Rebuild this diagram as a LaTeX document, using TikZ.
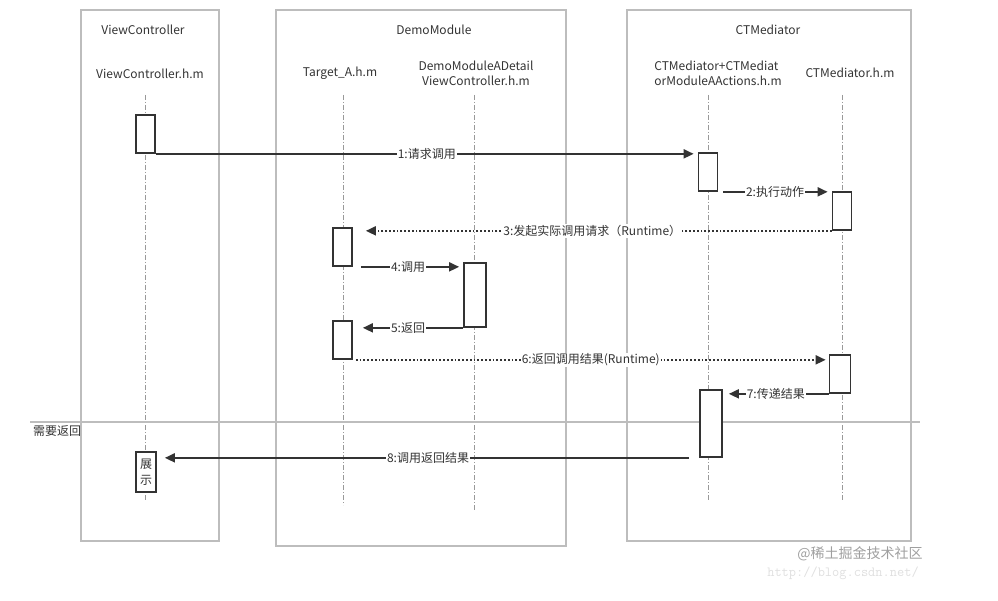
\documentclass[tikz,border=0pt]{standalone}
\usepackage{fontspec}
\setmainfont{Noto Sans CJK SC}
\usepackage{xcolor}
\usepackage{tikz}
\usetikzlibrary{arrows.meta, positioning, calc}
\definecolor{trazo}{HTML}{333333}
\definecolor{marco}{HTML}{BDBDBD}

\begin{document}
\begin{tikzpicture}[x=1pt, y=-1pt,
    font=\fontsize{12}{15}\selectfont,
    group frame/.style={draw=marco, line width=1.4pt},
    head label/.style={text=trazo, inner sep=0pt},
    life line/.style={draw=gray!80, line width=1pt, dash pattern=on 5pt off 2pt on 1pt off 2pt},
    act box/.style={draw=trazo, fill=white, line width=1.7pt, minimum width=19pt, minimum height=38pt, inner sep=0pt},
    call/.style={draw=trazo, line width=1.8pt, -{Triangle[length=10pt, width=9pt]}},
    async call/.style={call, dotted},
    msg label/.style={fill=white, text=trazo, inner sep=1pt}
]
    \useasboundingbox (0,0) rectangle (998,601);

    % Marcos
    \draw[group frame] (81,10) rectangle (219,541);
    \draw[group frame] (276,10) rectangle (566,546);
    \draw[group frame] (627,10) rectangle (911,541);

    % Cabeceras
    \node[head label] (hVC) at (143,30) {ViewController};
    \node[head label] (hDM) at (434,30) {DemoModule};
    \node[head label] (hCT) at (768,30) {CTMediator};

    \node[head label] (sVC) at (150,74) {ViewController.h.m};
    \node[head label] (sTA) at (340,73) {Target\_A.h.m};
    \node[head label, align=center] (sDD) at (476,73) {DemoModuleADetail\\ViewController.h.m};
    \node[head label, align=left] (sAA) at (718,73) {CTMediator+CTMediat\\orModuleAActions.h.m};
    \node[head label] (sCT) at (850,73) {CTMediator.h.m};

    % Lineas de vida
    \foreach \x/\yb in {145/500, 343/505, 474/510, 708/500, 842/500}
        \draw[life line] (\x,95) -- (\x,\yb);

    % Separador
    \draw[draw=marco, line width=1.4pt] (30,422) -- (920,422);
    \node[head label, anchor=north west] (sep) at (33,425) {需要返回};

    % Activaciones
    \node[act box] (v1) at (145.5,134) {};
    \node[act box] (b1) at (708,172) {};
    \node[act box] (c1) at (842,211) {};
    \node[act box] (t1) at (342.5,247) {};
    \node[act box, minimum width=22pt, minimum height=64pt] (d1) at (475,295) {};
    \node[act box] (t2) at (342.5,340) {};
    \node[act box, minimum width=21pt] (c2) at (840,374) {};
    \node[act box, minimum width=22pt, minimum height=67pt] (b2) at (711,423.5) {};
    \node[act box, minimum width=20pt, minimum height=40pt, align=center,
          font=\fontsize{12}{16}\selectfont, text=trazo] (v2) at (146,472) {展\\示};

    % Mensajes
    \draw[call, shorten >=4pt] (v1.south east) -- (v1.south east -| b1.west)
        node[midway, msg label] (m1) {1:请求调用};
    \draw[call, shorten <=5pt, shorten >=4pt] (b1.south east) -- (b1.south east -| c1.west)
        node[midway, msg label] (m2) {2:执行动作};
    \draw[async call, shorten >=13pt] (c1.south west) -- (c1.south west -| t1.east)
        node[midway, msg label] (m3) {3:发起实际调用请求（Runtime）};
    \draw[call, shorten <=8pt, shorten >=4pt] (t1.south east) -- (t1.south east -| d1.west)
        node[midway, msg label] (m4) {4:调用};
    \draw[call, shorten >=10pt] (d1.south west) -- (d1.south west -| t2.east)
        node[midway, msg label] (m5) {5:返回};
    \draw[async call, shorten <=3pt, shorten >=3pt] (t2.south east) -- (t2.south east -| c2.west)
        node[midway, msg label] (m6) {6:返回调用结果(Runtime)};
    \draw[call, shorten >=6pt] (c2.south west) -- (c2.south west -| b2.east)
        node[midway, msg label] (m7) {7:传递结果};
    \draw[call, shorten <=10pt, shorten >=8pt] (b2.south west) -- (b2.south west -| v2.east)
        node[midway, msg label] (m8) {8:调用返回结果};

    % Marca de agua
    \node[text=gray!25, font=\ttfamily\fontsize{14}{14}\selectfont] (wm2) at (843,573) {http://blog.csdn.net/};
    \node[text=gray!75, font=\fontsize{14}{14}\selectfont] (wm1) at (860,554) {@稀土掘金技术社区};
\end{tikzpicture}
\end{document}
